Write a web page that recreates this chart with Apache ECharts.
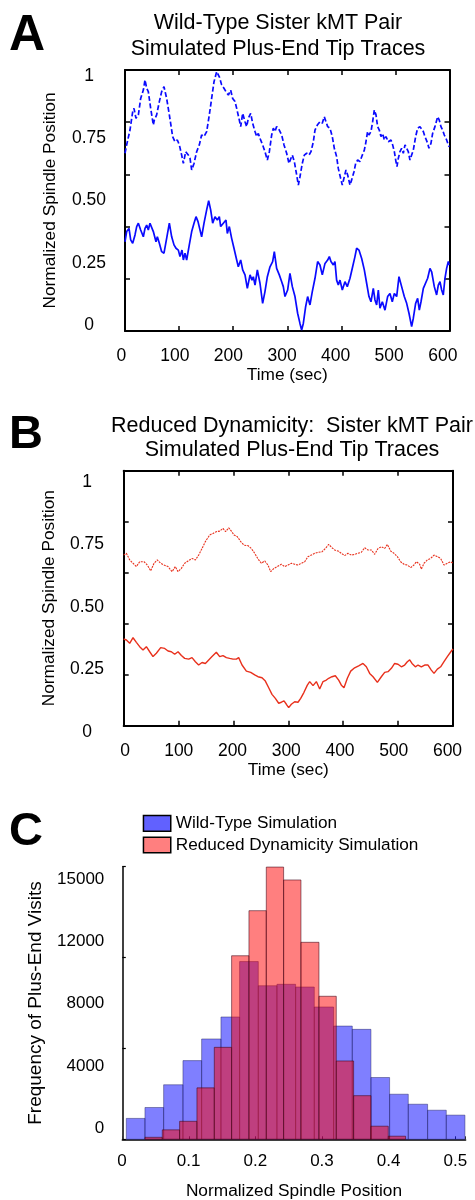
<!DOCTYPE html>
<html><head><meta charset="utf-8">
<script src="https://cdn.jsdelivr.net/npm/echarts@6/dist/echarts.min.js"></script>
<style>html,body{margin:0;padding:0;background:#fff}#c{width:475px;height:1200px}</style>
</head><body><div id="c"></div>
<script>
// ---------- tick labels ----------
const timeTickLabels = ['0','100','200','300','400','500','600'];
const posTickLabels = ['0','0.25','0.50','0.75','1'];
const histPosTickLabels = ['0','0.1','0.2','0.3','0.4','0.5'];
const histFreqTickLabels = ['0','4000','8000','12000','15000'];

// ---------- Panel A: wild-type traces [time (s), normalized position] ----------
const wtUpper = [[0,0.681],[3.1,0.713],[9.2,0.770],[14.2,0.840],[16.6,0.853],[20.3,0.815],[24.7,0.828],[29.0,0.891],[33.9,0.923],[37.0,0.962],[40.1,0.930],[43.1,0.917],[47.5,0.853],[52.4,0.789],[54.2,0.808],[58.5,0.828],[63.5,0.879],[67.8,0.917],[72.1,0.936],[77.0,0.891],[82.0,0.828],[88.1,0.745],[92.4,0.725],[96.8,0.732],[100.5,0.713],[104.8,0.674],[107.9,0.642],[112.2,0.687],[117.1,0.674],[120.2,0.662],[123.3,0.617],[127.6,0.642],[132.5,0.687],[137.4,0.713],[141.7,0.751],[146.1,0.745],[151.0,0.764],[155.9,0.828],[160.2,0.891],[164.6,0.955],[169.5,0.994],[171.3,1.0],[174.4,0.974],[178.7,0.943],[183.0,0.930],[186.7,0.917],[191.1,0.904],[195.4,0.923],[199.1,0.891],[203.4,0.879],[206.5,0.853],[211.4,0.808],[213.9,0.783],[217.6,0.834],[221.9,0.802],[225.0,0.783],[228.0,0.815],[232.4,0.834],[236.0,0.796],[240.4,0.764],[243.4,0.745],[246.5,0.757],[249.6,0.738],[254.5,0.713],[258.8,0.687],[263.2,0.655],[266.9,0.687],[271.2,0.751],[274.3,0.777],[277.3,0.764],[280.4,0.783],[285.3,0.770],[289.7,0.751],[294.0,0.713],[298.9,0.681],[303.2,0.642],[306.9,0.662],[309.4,0.674],[313.1,0.649],[317.4,0.598],[320.5,0.559],[323.5,0.591],[327.8,0.642],[331.5,0.674],[335.9,0.681],[340.2,0.674],[343.9,0.687],[348.2,0.725],[351.3,0.770],[355.6,0.789],[360.5,0.802],[364.8,0.796],[368.5,0.821],[371.0,0.828],[374.7,0.783],[379.0,0.777],[383.3,0.745],[387.0,0.700],[391.3,0.668],[394.4,0.623],[398.7,0.585],[401.8,0.559],[405.5,0.591],[408.6,0.617],[411.7,0.598],[416.0,0.559],[419.1,0.579],[423.4,0.610],[426.5,0.642],[430.2,0.655],[434.5,0.649],[438.8,0.674],[442.5,0.693],[445.0,0.719],[448.6,0.764],[451.1,0.751],[454.8,0.764],[457.9,0.802],[461.0,0.847],[464.1,0.828],[467.1,0.783],[470.2,0.770],[473.3,0.745],[476.4,0.757],[479.5,0.732],[482.5,0.745],[486.9,0.725],[491.8,0.732],[494.9,0.713],[498.0,0.687],[501.0,0.649],[502.9,0.630],[505.4,0.662],[508.4,0.687],[511.5,0.700],[514.6,0.681],[517.7,0.713],[520.8,0.719],[523.8,0.687],[526.9,0.655],[530.0,0.662],[533.1,0.693],[537.4,0.745],[541.1,0.777],[545.4,0.783],[548.5,0.783],[551.6,0.764],[554.6,0.745],[559.6,0.719],[562.0,0.700],[565.7,0.719],[568.8,0.757],[573.1,0.783],[578.1,0.821],[581.1,0.808],[584.2,0.783],[587.3,0.770],[590.4,0.751],[594.7,0.732],[597.8,0.713],[599.6,0.706]];

const wtLower = [[0,0.342],[3.1,0.381],[7.4,0.393],[10.5,0.349],[14.2,0.336],[18.5,0.368],[21.6,0.400],[24.7,0.413],[29.0,0.387],[33.9,0.361],[37.0,0.393],[40.1,0.406],[43.1,0.387],[46.2,0.413],[49.3,0.406],[52.4,0.381],[57.3,0.342],[59.8,0.361],[63.5,0.336],[67.8,0.304],[72.1,0.298],[77.0,0.355],[82.0,0.413],[86.3,0.361],[90.6,0.330],[94.3,0.317],[98.6,0.310],[101.7,0.285],[105.4,0.310],[107.9,0.272],[110.9,0.298],[114.0,0.272],[118.9,0.330],[123.3,0.381],[127.6,0.413],[131.3,0.438],[135.0,0.419],[138.7,0.387],[141.7,0.361],[146.1,0.413],[151.0,0.464],[154.7,0.499],[158.4,0.464],[162.1,0.413],[166.4,0.438],[170.7,0.425],[174.4,0.438],[176.9,0.400],[181.8,0.413],[186.7,0.425],[189.2,0.374],[192.9,0.400],[197.2,0.355],[201.5,0.317],[206.5,0.272],[209.5,0.246],[213.9,0.272],[217.6,0.234],[221.9,0.215],[226.2,0.163],[231.2,0.215],[234.8,0.195],[237.3,0.208],[240.4,0.176],[244.7,0.234],[249.6,0.183],[254.5,0.106],[258.8,0.151],[263.2,0.208],[268.1,0.246],[273.0,0.266],[276.1,0.304],[280.4,0.240],[285.3,0.215],[289.7,0.189],[292.7,0.170],[295.8,0.132],[300.7,0.157],[305.0,0.221],[309.4,0.170],[314.3,0.132],[319.2,0.068],[323.5,0.029],[326.6,0.004],[329.7,0.029],[334.0,0.093],[337.7,0.132],[342.0,0.100],[346.3,0.151],[351.3,0.202],[356.2,0.266],[360.5,0.253],[364.8,0.215],[369.8,0.259],[374.7,0.272],[377.8,0.285],[380.8,0.266],[385.2,0.253],[388.2,0.266],[391.3,0.195],[394.4,0.176],[397.5,0.195],[401.8,0.157],[406.7,0.189],[411.0,0.170],[416.0,0.202],[420.9,0.246],[425.2,0.285],[428.3,0.317],[432.6,0.310],[437.6,0.278],[442.5,0.234],[446.8,0.183],[451.1,0.132],[454.8,0.112],[459.1,0.163],[462.2,0.119],[465.3,0.100],[468.4,0.157],[471.4,0.087],[475.8,0.112],[480.7,0.080],[485.6,0.132],[489.9,0.144],[494.2,0.112],[498.0,0.144],[502.3,0.132],[506.6,0.208],[511.5,0.170],[516.4,0.132],[520.8,0.106],[525.1,0.068],[530.0,0.017],[533.1,0.049],[537.4,0.106],[541.1,0.125],[544.2,0.080],[547.3,0.112],[551.6,0.163],[554.6,0.170],[559.6,0.202],[563.9,0.240],[567.0,0.227],[571.9,0.170],[576.2,0.138],[579.3,0.176],[582.4,0.189],[585.5,0.157],[588.5,0.138],[591.6,0.202],[594.7,0.240],[597.8,0.266],[599.6,0.253]];

// ---------- Panel B: reduced dynamicity traces ----------
const rdUpper = [[0,0.669],[4.9,0.676],[10.9,0.650],[17.0,0.637],[23.1,0.624],[29.1,0.643],[37.0,0.643],[43.1,0.630],[49.2,0.607],[55.3,0.637],[61.3,0.650],[67.4,0.637],[73.5,0.630],[80.8,0.624],[88.1,0.604],[94.1,0.624],[99.0,0.604],[105.1,0.617],[111.1,0.637],[117.2,0.646],[124.5,0.656],[130.6,0.650],[136.6,0.669],[142.7,0.695],[148.8,0.722],[156.7,0.748],[162.8,0.754],[168.8,0.761],[174.9,0.763],[180.9,0.774],[185.8,0.761],[191.3,0.776],[196.2,0.763],[201.0,0.748],[207.1,0.741],[213.2,0.722],[219.2,0.708],[226.5,0.706],[232.6,0.695],[238.7,0.676],[244.7,0.654],[250.8,0.637],[256.9,0.646],[262.9,0.630],[267.8,0.604],[273.9,0.617],[280.0,0.624],[287.3,0.633],[293.3,0.624],[299.4,0.630],[305.5,0.637],[311.5,0.633],[317.6,0.630],[323.7,0.637],[329.8,0.643],[335.8,0.663],[341.9,0.669],[348.0,0.676],[354.1,0.680],[361.3,0.682],[367.4,0.695],[373.5,0.711],[379.5,0.698],[384.4,0.689],[390.5,0.685],[396.6,0.676],[402.6,0.667],[408.7,0.676],[414.8,0.669],[420.8,0.672],[426.9,0.676],[433.0,0.680],[439.0,0.698],[445.1,0.689],[451.2,0.689],[457.3,0.672],[463.4,0.695],[469.4,0.702],[475.5,0.695],[480.4,0.711],[486.4,0.685],[492.5,0.676],[498.6,0.663],[504.6,0.643],[510.7,0.633],[516.8,0.630],[522.9,0.620],[528.9,0.630],[533.2,0.643],[539.3,0.633],[542.3,0.614],[547.2,0.637],[553.3,0.650],[559.3,0.656],[565.4,0.669],[571.5,0.663],[577.5,0.656],[583.6,0.630],[589.7,0.637],[595.8,0.643],[600,0.637]];

const rdLower = [[0,0.340],[4.9,0.336],[10.9,0.323],[17.0,0.345],[23.1,0.327],[29.1,0.310],[35.2,0.297],[41.3,0.310],[47.4,0.290],[53.4,0.271],[59.5,0.284],[67.4,0.306],[74.7,0.303],[80.8,0.293],[86.8,0.290],[92.9,0.280],[99.0,0.290],[105.1,0.275],[111.1,0.264],[118.4,0.261],[124.5,0.267],[130.6,0.251],[136.6,0.238],[142.7,0.248],[148.8,0.244],[154.9,0.258],[160.9,0.271],[168.8,0.288],[174.9,0.271],[180.9,0.275],[187.1,0.267],[193.1,0.264],[199.2,0.261],[205.3,0.261],[209.5,0.267],[215.6,0.238],[223.5,0.214],[231.4,0.209],[238.7,0.199],[244.7,0.192],[252.0,0.188],[258.1,0.175],[264.2,0.149],[270.2,0.123],[276.3,0.107],[282.4,0.088],[287.3,0.092],[292.1,0.097],[296.4,0.084],[300.6,0.071],[305.5,0.084],[311.5,0.094],[317.6,0.092],[322.5,0.107],[328.5,0.131],[334.6,0.159],[338.9,0.173],[345.0,0.157],[351.0,0.173],[357.1,0.144],[363.2,0.173],[369.2,0.179],[373.5,0.186],[379.5,0.192],[385.6,0.196],[391.7,0.179],[396.6,0.159],[401.4,0.149],[407.5,0.186],[413.6,0.214],[420.8,0.227],[428.1,0.235],[436.0,0.244],[442.1,0.231],[448.2,0.205],[454.3,0.192],[462.2,0.170],[469.4,0.192],[475.5,0.209],[481.6,0.212],[487.7,0.225],[493.7,0.244],[499.8,0.241],[505.9,0.231],[511.9,0.238],[516.8,0.251],[521.1,0.258],[525.3,0.244],[531.4,0.231],[536.3,0.238],[542.3,0.231],[548.4,0.238],[554.5,0.238],[560.5,0.218],[565.4,0.205],[571.5,0.222],[577.5,0.231],[583.6,0.251],[589.7,0.271],[597.0,0.293],[600,0.301]];

// ---------- Panel C: histograms ----------
const wtBinEdges = [0.006,0.034,0.062,0.091,0.119,0.148,0.176,0.204,0.232,0.260,0.288,0.317,0.345,0.373,0.401,0.429,0.458,0.486,0.514];
const wtCounts = [1150,1750,3000,4330,5520,6730,9780,8450,8530,8380,7280,6230,6050,3400,2480,1930,1600,1330];
const rdBinEdges = [0.034,0.060,0.086,0.112,0.138,0.164,0.190,0.216,0.242,0.268,0.295,0.321,0.347,0.373,0.399,0.425];
const rdCounts = [110,520,990,2830,5060,10100,12580,14980,14270,10840,7870,4310,2400,720,170];

// ---------- build ----------
const FONT = '"Liberation Sans", Arial, sans-serif';
const BLACK = '#000';
const txt = (size, extra) => Object.assign({fontFamily: FONT, fontSize: size, color: BLACK, fontWeight: 'normal'}, extra || {});

function frameX(grid, pos, name, gap) {
  return {
    gridIndex: grid, type: 'value', position: pos, min: 0, max: 600, interval: 100,
    axisLine: {show: true, onZero: false, lineStyle: {color: BLACK, width: 2}},
    axisTick: {show: true, inside: true, length: 5, lineStyle: {color: BLACK, width: 1.5}},
    axisLabel: {show: false}, splitLine: {show: false},
    name: name || '', nameLocation: 'middle', nameGap: gap || 0, nameTextStyle: txt(17.3)
  };
}
function frameY(grid, pos, name, gap) {
  return {
    gridIndex: grid, type: 'value', position: pos, min: 0, max: 1, interval: 0.2,
    axisLine: {show: true, onZero: false, lineStyle: {color: BLACK, width: 2}},
    axisTick: {show: true, inside: true, length: 5, lineStyle: {color: BLACK, width: 1.5}},
    axisLabel: {show: false}, splitLine: {show: false},
    name: name || '', nameLocation: 'middle', nameGap: gap || 0, nameTextStyle: txt(17.3)
  };
}
function labelX(grid, labels, margin, size) {
  return {
    gridIndex: grid, type: 'category', data: labels, boundaryGap: false, position: 'bottom',
    axisLine: {show: false}, axisTick: {show: false}, splitLine: {show: false},
    axisLabel: Object.assign({interval: 0, margin: margin}, txt(size))
  };
}
function labelY(grid, labels, margin, size, align) {
  return {
    gridIndex: grid, type: 'category', data: labels, boundaryGap: false, position: 'left',
    axisLine: {show: false}, axisTick: {show: false}, splitLine: {show: false},
    axisLabel: Object.assign({interval: 0, margin: margin, align: align}, txt(size))
  };
}
function histSeries(name, edges, counts, fill, stroke, z) {
  const data = counts.map((c, i) => [edges[i], edges[i + 1], c]);
  return {
    type: 'custom', name: name, xAxisIndex: 6, yAxisIndex: 6, z: z, silent: true,
    encode: {x: [0, 1], y: 2}, itemStyle: {color: fill}, animation: false,
    renderItem: function (params, api) {
      const p0 = api.coord([api.value(0), api.value(2)]);
      const p1 = api.coord([api.value(1), 0]);
      return {type: 'rect', shape: {x: p0[0], y: p0[1], width: p1[0] - p0[0], height: p1[1] - p0[1]},
              style: {fill: fill, stroke: stroke, lineWidth: 1}};
    },
    data: data
  };
}

const grids = [
  {left: 125, top: 70, width: 324.5, height: 261},          // 0 A data
  {left: 121.3, top: 75.8, width: 321.5, height: 249.2},    // 1 A labels
  {left: 123.7, top: 470.7, width: 329.3, height: 255},     // 2 B data
  {left: 125, top: 481.7, width: 322.5, height: 250},       // 3 B labels
  {left: 122.3, top: 866.7, width: 343.3, height: 272.6},   // 4 C data
  {left: 122, top: 879, width: 333.3, height: 249.3}        // 5 C labels
].map(g => Object.assign({show: false, containLabel: false, outerBoundsMode: 'none'}, g));

const option = {
  backgroundColor: '#fff',
  animation: false,
  title: [
    {text: 'A', left: 9, top: 11, padding: 0, textStyle: txt(50, {fontWeight: 'bold', lineHeight: 50})},
    {text: 'Wild-Type Sister kMT Pair\nSimulated Plus-End Tip Traces', left: 278, top: 10.5, padding: 0, textAlign: 'center',
     textStyle: txt(21.5, {lineHeight: 26})},
    {text: 'B', left: 9, top: 412, padding: 0, textStyle: txt(47, {fontWeight: 'bold', lineHeight: 47})},
    {text: 'Reduced Dynamicity:  Sister kMT Pair\nSimulated Plus-End Tip Traces', left: 292, top: 413.8, padding: 0, textAlign: 'center',
     textStyle: txt(21.5, {lineHeight: 24})},
    {text: 'C', left: 9, top: 809, padding: 0, textStyle: txt(47, {fontWeight: 'bold', lineHeight: 47})}
  ],
  legend: {
    orient: 'vertical', left: 142.7, top: 814.7, padding: 0, itemGap: 4.5, itemWidth: 27.3, itemHeight: 15.7,
    icon: 'rect', selectedMode: false, textStyle: txt(17.2),
    data: [
      {name: 'Wild-Type Simulation', itemStyle: {color: 'rgba(0,0,255,0.62)', borderColor: BLACK, borderWidth: 1.5}},
      {name: 'Reduced Dynamicity Simulation', itemStyle: {color: 'rgba(255,0,0,0.5)', borderColor: BLACK, borderWidth: 1.5}}
    ]
  },
  grid: grids,
  xAxis: [
    frameX(0, 'bottom', 'Time (sec)', 36),
    frameX(0, 'top'),
    labelX(1, timeTickLabels, 22, 17.5),
    frameX(2, 'bottom', 'Time (sec)', 36),
    frameX(2, 'top'),
    labelX(3, timeTickLabels, 10, 17.5),
    {gridIndex: 4, type: 'value', min: 0, max: 0.515, interval: 0.1, position: 'bottom',
     axisLine: {show: true, onZero: false, lineStyle: {color: BLACK, width: 1.5}},
     axisTick: {show: true, inside: true, length: 3, lineStyle: {color: '#333', width: 1}},
     axisLabel: {show: false}, splitLine: {show: false},
     name: 'Normalized Spindle Position', nameLocation: 'middle', nameGap: 43, nameTextStyle: txt(17.3)},
    labelX(5, histPosTickLabels, 25, 17)
  ],
  yAxis: [
    frameY(0, 'left', 'Normalized Spindle Position', 66),
    frameY(0, 'right'),
    labelY(1, posTickLabels, 32.3, 17.5, 'center'),
    frameY(2, 'left', 'Normalized Spindle Position', 66),
    frameY(2, 'right'),
    labelY(3, posTickLabels, 38, 17.5, 'center'),
    {gridIndex: 4, type: 'value', min: 0, max: 15000, interval: 5000, position: 'left',
     axisLine: {show: true, onZero: false, lineStyle: {color: BLACK, width: 1.5}},
     axisTick: {show: true, inside: true, length: 3.5, lineStyle: {color: BLACK, width: 1.2}},
     axisLabel: {show: false}, splitLine: {show: false},
     name: 'Frequency of Plus-End Visits', nameLocation: 'middle', nameGap: 77, nameTextStyle: txt(19)},
    labelY(5, histFreqTickLabels, 17.7, 17, 'right')
  ],
  series: [
    {type: 'line', name: 'WT sister 1', xAxisIndex: 0, yAxisIndex: 0, data: wtUpper, symbol: 'none', showSymbol: false,
     lineStyle: {color: '#0a0aff', width: 1.7, type: [5, 2.5]}, silent: true},
    {type: 'line', name: 'WT sister 2', xAxisIndex: 0, yAxisIndex: 0, data: wtLower, symbol: 'none', showSymbol: false,
     lineStyle: {color: '#0a0aff', width: 1.7}, silent: true},
    {type: 'line', name: 'RD sister 1', xAxisIndex: 3, yAxisIndex: 3, data: rdUpper, symbol: 'none', showSymbol: false,
     lineStyle: {color: '#e8301c', width: 1.1, type: [2, 1]}, silent: true},
    {type: 'line', name: 'RD sister 2', xAxisIndex: 3, yAxisIndex: 3, data: rdLower, symbol: 'none', showSymbol: false,
     lineStyle: {color: '#e8301c', width: 1.4}, silent: true},
    histSeries('Wild-Type Simulation', wtBinEdges, wtCounts, 'rgba(0,0,255,0.5)', 'rgba(30,30,90,0.45)', 2),
    histSeries('Reduced Dynamicity Simulation', rdBinEdges, rdCounts, 'rgba(255,0,0,0.5)', 'rgba(60,0,20,0.55)', 3)
  ]
};

const chart = echarts.init(document.getElementById('c'), null, {renderer: 'canvas', width: 475, height: 1200});
chart.setOption(option);
</script>
</body></html>
